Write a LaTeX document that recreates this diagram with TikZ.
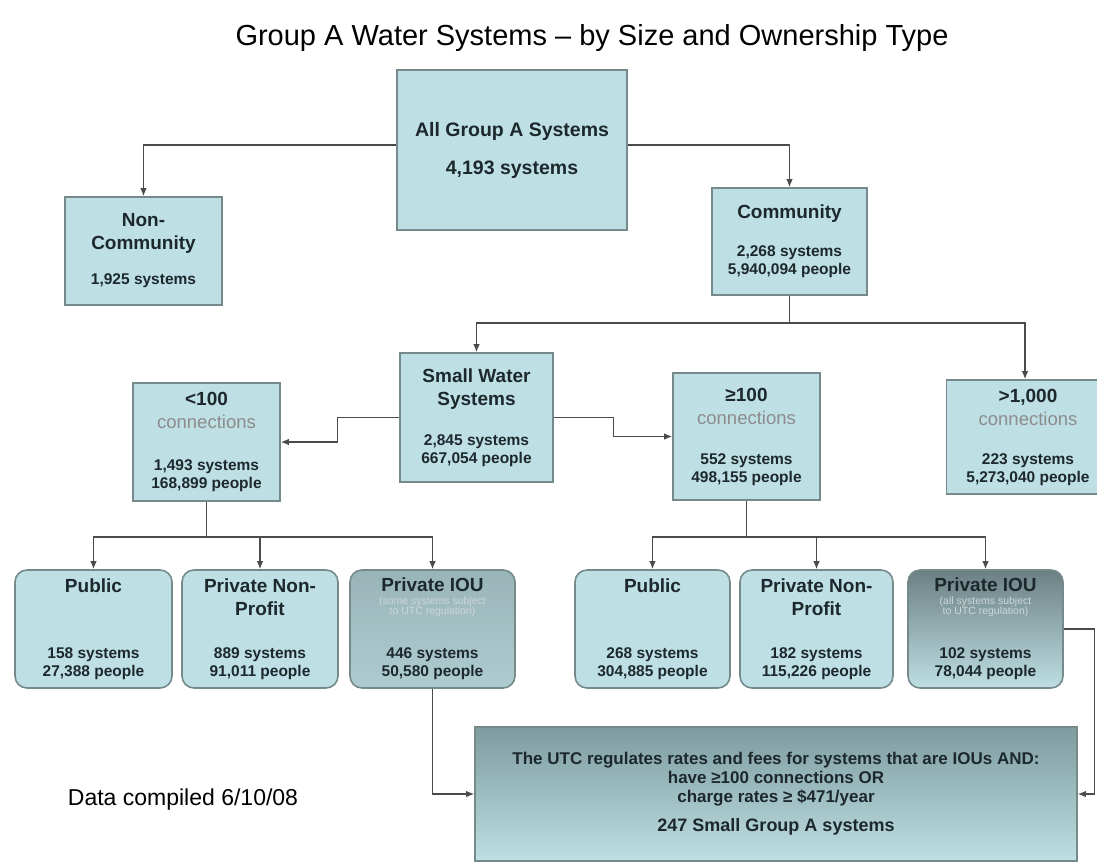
\documentclass[tikz,border=0pt]{standalone}
\usepackage{fontspec}
\setmainfont{Liberation Sans}
\usetikzlibrary{positioning,calc,arrows.meta}

\definecolor{boxfill}{RGB}{190,223,227}
\definecolor{boxline}{RGB}{118,138,140}
\definecolor{iougray}{RGB}{108,128,131}
\definecolor{ioudark}{RGB}{95,112,115}
\definecolor{utctop}{RGB}{126,156,160}
\definecolor{txtdark}{RGB}{28,40,44}
\definecolor{conngray}{RGB}{75,75,75}
\definecolor{notegray}{RGB}{205,215,216}

\newcommand{\boxhead}{\fontsize{19}{22}\selectfont\bfseries}
\newcommand{\boxconn}{\fontsize{18.5}{20}\selectfont\mdseries\color{black!45}}
\newcommand{\boxnote}{\fontsize{10.5}{11}\selectfont\mdseries\color{notegray}}

\tikzset{
  box/.style={draw=boxline, line width=1.6pt, fill=boxfill, align=center,
    text=txtdark, inner sep=0pt, font=\fontsize{15.5}{18}\selectfont\bfseries},
  rbox/.style={box, rounded corners=12pt},
  ioubox/.style={draw=boxline, line width=1.6pt, rounded corners=12pt, align=center,
    text=txtdark, inner sep=0pt, font=\fontsize{15.5}{18}\selectfont\bfseries},
  conn/.style={draw=conngray, line width=1.3pt, -{Latex[length=8pt,width=6.5pt]}},
  link/.style={draw=conngray, line width=1.3pt}
}

\begin{document}
\begin{tikzpicture}[x=1pt, y=-1pt]
	\useasboundingbox (0,0) rectangle (1097,863);
	
	% titolo
	\node (title) at (592,38) {\fontsize{29}{32}\selectfont Group A Water Systems -- by Size and Ownership Type};
	\node (datenote) at (183,800) {\fontsize{23}{26}\selectfont Data compiled 6/10/08};
	
	% primo livello
	\node[box, minimum width=230pt, minimum height=160pt, font=\fontsize{19.5}{23}\selectfont\bfseries] (allA) at (512,150)
		{All Group A Systems\\[15pt]4,193 systems};
	\node[box, minimum width=157pt, minimum height=108pt] (noncomm) at (143.5,251)
		{{\boxhead Non-}\\[5pt]{\boxhead Community}\\[17pt]1,925 systems};
	\node[box, minimum width=155pt, minimum height=107pt] (comm) at (789.5,241.5)
		{{\boxhead Community}\\[20pt]2,268 systems\\5,940,094 people};
	
	% dimensioni
	\node[box, minimum width=153pt, minimum height=129pt] (small) at (476.5,417.5)
		{{\boxhead Small Water}\\[5pt]{\boxhead Systems}\\[22pt]2,845 systems\\667,054 people};
	\node[box, minimum width=147pt, minimum height=118pt] (lt100) at (206.5,442)
		{{\boxhead <100}\\[5pt]{\boxconn connections}\\[24pt]1,493 systems\\168,899 people};
	\node[box, minimum width=147pt, minimum height=127pt] (ge100) at (746.5,436.5)
		{{\boxhead ≥100}\\[5pt]{\boxconn connections}\\[22pt]552 systems\\498,155 people};
	\node[box, minimum width=163pt, minimum height=114pt] (gt1000) at (1028,437)
		{{\boxhead >1,000}\\[5pt]{\boxconn connections}\\[21pt]223 systems\\5,273,040 people};
	
	% proprietari (<100)
	\node[rbox, minimum width=157pt, minimum height=118pt] (pubA) at (93.5,629)
		{{\boxhead Public}\\[48pt]158 systems\\27,388 people};
	\node[rbox, minimum width=156pt, minimum height=118pt] (pnpA) at (260,629)
		{{\boxhead Private Non-}\\[5pt]{\boxhead Profit}\\[25pt]889 systems\\91,011 people};
	\node[ioubox, top color=boxfill!55!iougray, middle color=ioudark, bottom color=boxfill!80!iougray,
		minimum width=165pt, minimum height=118pt] (iouA) at (432.5,629)
		{{\boxhead Private IOU}\\[-5pt]{\boxnote (some systems subject}\\[-8pt]{\boxnote to UTC regulation)}\\[26pt]446 systems\\50,580 people};
	
	% proprietari (>=100)
	\node[rbox, minimum width=155pt, minimum height=118pt] (pubB) at (652.5,629)
		{{\boxhead Public}\\[48pt]268 systems\\304,885 people};
	\node[rbox, minimum width=153pt, minimum height=118pt] (pnpB) at (816.5,629)
		{{\boxhead Private Non-}\\[5pt]{\boxhead Profit}\\[25pt]182 systems\\115,226 people};
	\node[ioubox, top color=iougray, bottom color=boxfill,
		minimum width=155pt, minimum height=118pt] (iouB) at (985.5,629)
		{{\boxhead Private IOU}\\[-5pt]{\boxnote (all systems subject}\\[-8pt]{\boxnote to UTC regulation)}\\[26pt]102 systems\\78,044 people};
	
	% UTC
	\node[draw=boxline, line width=1.6pt, top color=utctop, bottom color=boxfill, align=center,
		text=txtdark, inner sep=0pt, font=\fontsize{17}{19}\selectfont\bfseries,
		minimum width=602pt, minimum height=134pt] (utc) at (776,794)
		{The UTC regulates rates and fees for systems that are IOUs AND:\\have ≥100 connections OR\\charge rates ≥ \$471/year\\[10pt]{\fontsize{18}{20}\selectfont 247 Small Group A systems}};
	
	% collegamenti
	\coordinate (splitC) at (789.5,323);
	\coordinate (splitL) at (206.5,537);
	\coordinate (splitR) at (746.5,537);
	
	\draw[conn] ([yshift=5pt]allA.west) -| (noncomm.north);
	\draw[conn] ([yshift=5pt]allA.east) -| (comm.north);
	\draw[link] (comm.south) -- (splitC);
	\draw[conn] (splitC) -| (small.north);
	\draw[conn] (splitC) -| ([xshift=-3pt]gt1000.north);
	\draw[conn] (small.west) -- ++(-62,0) |- (lt100.east);
	\draw[conn] (small.east) -- ++(60,0) |- (ge100.west);
	
	\draw[link] (lt100.south) -- (splitL);
	\draw[conn] (splitL) -| (pubA.north);
	\draw[conn] (splitL) -| (pnpA.north);
	\draw[conn] (splitL) -| (iouA.north);
	\draw[link] (ge100.south) -- (splitR);
	\draw[conn] (splitR) -| (pubB.north);
	\draw[conn] (splitR) -| (pnpB.north);
	\draw[conn] (splitR) -| (iouB.north);
	
	\draw[conn] (iouA.south) |- (utc.west);
	\draw[conn] (iouB.east) -- ++(31,0) |- (utc.east);
\end{tikzpicture}
\end{document}
